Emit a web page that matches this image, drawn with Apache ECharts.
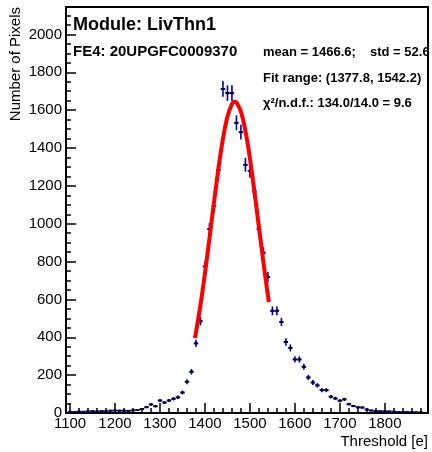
<!DOCTYPE html>
<html><head><meta charset="utf-8">
<script src="https://cdn.jsdelivr.net/npm/echarts@6/dist/echarts.min.js"></script>
<style>html,body{margin:0;padding:0;background:#fff}#c{width:432px;height:452px}</style>
</head><body><div id="c"></div>
<script>
// ---- data ----
const binCenters = [1100,1110,1120,1130,1140,1150,1160,1170,1180,1190,1200,1210,1220,1230,1240,1250,1260,1270,1280,1290,1300,1310,1320,1330,1340,1350,1360,1370,1380,1390,1400,1410,1420,1430,1440,1450,1460,1470,1480,1490,1500,1510,1520,1530,1540,1550,1560,1570,1580,1590,1600,1610,1620,1630,1640,1650,1660,1670,1680,1690,1700,1710,1720,1730,1740,1750,1760,1770,1780,1790,1800,1810,1820,1830,1840,1850,1860,1870,1880];
const counts = [6,5,7,6,8,9,8,10,9,12,13,12,12,11,14,16,21,31,45,36,66,55,66,75,83,108,165,218,368,485,774,972,1093,1283,1712,1690,1690,1533,1484,1311,1279,1170,972,847,718,540,540,481,375,344,283,283,244,188,161,146,121,121,86,77,65,72,47,37,30,29,18,13,10,9,9,8,7,5,5,5,4,3,3];
const errors = [2.4,2.2,2.6,2.4,2.8,3,2.8,3.2,3,3.5,3.6,3.5,3.5,3.3,3.7,4,4.6,5.6,6.7,6,8.1,7.4,8.1,8.7,9.1,10.4,12.8,14.8,19.2,22,27.8,31.2,33.1,35.8,41.4,41.1,41.1,39.2,38.5,36.2,35.8,34.2,31.2,29.1,26.8,23.2,23.2,21.9,19.4,18.5,16.8,16.8,15.6,13.7,12.7,12.1,11,11,9.3,8.8,8.1,8.5,6.9,6.1,5.5,5.4,4.2,3.6,3.2,3,3,2.8,2.6,2.2,2.2,2.2,2,1.7,1.7];
const fitX = [1377.8,1390,1400,1410,1420,1430,1440,1450,1460,1466.6,1470,1480,1490,1500,1510,1520,1530,1540,1542.2];
const fitY = [396,570,738,922,1111,1291,1448,1565,1632,1645,1642,1592,1490,1345,1170,983,796,621,586];
const xTickLabels = [1100,1200,1300,1400,1500,1600,1700,1800];
const yTickLabels = [0,200,400,600,800,1000,1200,1400,1600,1800,2000];
const titleText = 'Module: LivThn1';
const feText = 'FE4: 20UPGFC0009370';
const meanText = 'mean = 1466.6;';
const stdText = 'std = 52.6';
const rangeText = 'Fit range: (1377.8, 1542.2)';
const chiText = 'χ²/n.d.f.: 134.0/14.0 = 9.6';
const xName = 'Threshold [e]';
const yName = 'Number of Pixels';

// ---- axis configuration ----
const X_MIN = 1091, X_MAX = 1896, Y_MIN = 0, Y_MAX = 2145;
const BIN_HALF = 5;
const xMinor = []; for (let v = 1100; v <= 1880; v += 20) xMinor.push(v);
const yMinor = []; for (let v = 0; v <= 2100; v += 50) yMinor.push(v);

const FONT = '"Liberation Sans", Arial, Helvetica, sans-serif';
const plain = v => String(v);
const chart = echarts.init(document.getElementById('c'), null, {renderer: 'canvas'});

const option = {
  animation: false,
  backgroundColor: '#fff',
  grid: {left: 66, top: 7, width: 362, height: 406, show: true, borderColor: '#000', borderWidth: 2, backgroundColor: 'transparent'},
  xAxis: [
    {type: 'value', min: X_MIN, max: X_MAX, position: 'bottom',
     axisLine: {show: false}, splitLine: {show: false},
     axisTick: {show: true, inside: true, length: 10, customValues: xTickLabels, lineStyle: {color: '#000', width: 1.5}},
     axisLabel: {show: true, customValues: xTickLabels, formatter: plain, margin: 3, fontFamily: FONT, fontSize: 15, color: '#000'}},
    {type: 'value', min: X_MIN, max: X_MAX, position: 'bottom',
     axisLine: {show: false}, splitLine: {show: false}, axisLabel: {show: false},
     axisTick: {show: true, inside: true, length: 5, customValues: xMinor, lineStyle: {color: '#000', width: 1.5}}}
  ],
  yAxis: [
    {type: 'value', min: Y_MIN, max: Y_MAX, position: 'left',
     axisLine: {show: false}, splitLine: {show: false},
     axisTick: {show: true, inside: true, length: 10, customValues: yTickLabels, lineStyle: {color: '#000', width: 1.5}},
     axisLabel: {show: true, customValues: yTickLabels, formatter: plain, margin: 4, fontFamily: FONT, fontSize: 15, color: '#000'}},
    {type: 'value', min: Y_MIN, max: Y_MAX, position: 'left',
     axisLine: {show: false}, splitLine: {show: false}, axisLabel: {show: false},
     axisTick: {show: true, inside: true, length: 5, customValues: yMinor, lineStyle: {color: '#000', width: 1.5}}}
  ],
  series: [
    {type: 'custom', xAxisIndex: 0, yAxisIndex: 0, clip: true, z: 2,
     data: binCenters.map((b, i) => [b, counts[i], errors[i]]),
     renderItem: function (params, api) {
       const x = api.value(0), y = api.value(1), e = api.value(2);
       const c = api.coord([x, y]);
       const top = api.coord([x, y + e]);
       const bot = api.coord([x, Math.max(y - e, 0)]);
       const l = api.coord([x - BIN_HALF, y]);
       const r = api.coord([x + BIN_HALF, y]);
       return {type: 'group', children: [
         {type: 'line', shape: {x1: c[0], y1: top[1], x2: c[0], y2: bot[1]}, style: {stroke: '#0000a8', lineWidth: 1.6}},
         {type: 'line', shape: {x1: l[0], y1: c[1], x2: r[0], y2: c[1]}, style: {stroke: '#00007a', lineWidth: 2}},
         {type: 'rect', shape: {x: c[0] - 1, y: c[1] - 1, width: 2, height: 2}, style: {fill: '#000'}}
       ]};
     }},
    {type: 'line', xAxisIndex: 0, yAxisIndex: 0, z: 5,
     data: fitX.map((x, i) => [x, fitY[i]]),
     smooth: 0.4, showSymbol: false, symbol: 'none',
     lineStyle: {color: '#ff0000', width: 4}}
  ],
  graphic: [
    {type: 'text', x: 73, y: 25, style: {text: titleText, font: 'bold 18px ' + FONT, fill: '#000', verticalAlign: 'middle'}},
    {type: 'text', x: 73, y: 52, style: {text: feText, font: 'bold 15px ' + FONT, fill: '#000', verticalAlign: 'middle'}},
    {type: 'text', x: 263, y: 52, style: {text: meanText, font: 'bold 13px ' + FONT, fill: '#000', verticalAlign: 'middle'}},
    {type: 'text', x: 370, y: 52, style: {text: stdText, font: 'bold 13px ' + FONT, fill: '#000', verticalAlign: 'middle'}},
    {type: 'text', x: 263, y: 78, style: {text: rangeText, font: 'bold 13px ' + FONT, fill: '#000', verticalAlign: 'middle'}},
    {type: 'text', x: 263, y: 103, style: {text: chiText, font: 'bold 13px ' + FONT, fill: '#000', verticalAlign: 'middle'}},
    {type: 'text', x: 428, y: 442, style: {text: xName, font: '15px ' + FONT, fill: '#000', align: 'right', verticalAlign: 'middle'}},
    {type: 'text', x: 16, y: 7, rotation: Math.PI / 2, style: {text: yName, font: '15px ' + FONT, fill: '#000', align: 'right', verticalAlign: 'middle'}}
  ]
};
chart.setOption(option);
</script>
</body></html>
